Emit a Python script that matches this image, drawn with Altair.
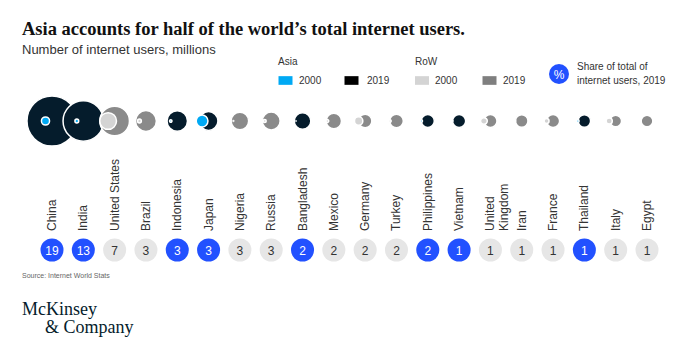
import altair as alt
import pandas as pd

countries = ["China", "India", "United States", "Brazil", "Indonesia", "Japan", "Nigeria",
             "Russia", "Bangladesh", "Mexico", "Germany", "Turkey", "Philippines", "Vietnam",
             "United Kingdom", "Iran", "France", "Thailand", "Italy", "Egypt"]
labels = ["China", "India", "United States", "Brazil", "Indonesia", "Japan", "Nigeria",
          "Russia", "Bangladesh", "Mexico", "Germany", "Turkey", "Philippines", "Vietnam",
          "United\nKingdom", "Iran", "France", "Thailand", "Italy", "Egypt"]
regions = ["Asia", "Asia", "RoW", "RoW", "Asia", "Asia", "RoW", "RoW", "Asia", "RoW",
           "RoW", "RoW", "Asia", "Asia", "RoW", "RoW", "RoW", "Asia", "RoW", "RoW"]
users_2000 = [22.5, 5.0, 95.4, 5.0, 2.0, 47.1, 0.2, 3.1, 0.1, 2.7,
              24.0, 2.0, 2.0, 0.2, 15.4, 0.25, 8.5, 2.3, 13.2, 0.45]
users_2019 = [854, 560, 300, 149, 143, 120, 105, 109, 94, 80,
              62, 64, 58, 59, 59, 53, 59, 53, 47, 47]
share_2019 = [19, 13, 7, 3, 3, 3, 3, 3, 2, 2, 2, 2, 2, 1, 1, 1, 1, 1, 1, 1]

df = pd.DataFrame({
    "country": countries,
    "label": labels,
    "region": regions,
    "u2000": users_2000,
    "u2019": users_2019,
    "share": share_2019,
})
df["g2000"] = df["region"] + " 2000"
df["g2019"] = df["region"] + " 2019"

SANS = "Liberation Sans"
SERIF = "Liberation Serif"
BLUE = "#2251ff"

x_enc = alt.X("country:N", sort=countries, axis=None,
              scale=alt.Scale(type="point", domain=countries, range=[52, 647], padding=0))
size_scale = alt.Scale(domain=[0, 854], range=[0, 2507])

base = alt.Chart(df)

c2019 = base.mark_circle(opacity=1, stroke="white", strokeWidth=1.5).encode(
    x=x_enc,
    y=alt.value(121),
    size=alt.Size("u2019:Q", scale=size_scale, legend=None),
    color=alt.Color("g2019:N", scale=alt.Scale(domain=["Asia 2019", "RoW 2019"],
                                                range=["#051c2c", "#8a8a8a"]), legend=None),
)

c2000 = base.mark_circle(opacity=1, stroke="white", strokeWidth=1.5, xOffset=-6.5).encode(
    x=x_enc,
    y=alt.value(121),
    size=alt.Size("u2000:Q", scale=size_scale, legend=None),
    color=alt.Color("g2000:N", scale=alt.Scale(domain=["Asia 2000", "RoW 2000"],
                                                range=["#00a9f4", "#d4d4d4"]), legend=None),
)

names = base.mark_text(angle=270, align="left", baseline="middle", fontSize=12, font=SANS,
                       color="#333333", lineBreak="\n", lineHeight=14).encode(
    x=x_enc, y=alt.value(231), text="label:N")

share_c = base.mark_circle(opacity=1, size=531).encode(
    x=x_enc, y=alt.value(250),
    color=alt.Color("region:N", scale=alt.Scale(domain=["Asia", "RoW"], range=[BLUE, "#e6e6e6"]),
                    legend=None),
)
share_t = base.mark_text(fontSize=12, font=SANS, baseline="middle").encode(
    x=x_enc, y=alt.value(250.5), text="share:Q",
    color=alt.condition(alt.datum.region == "Asia", alt.value("white"), alt.value("#333333")),
)


def txt(s, x, y, size=10, color="#333333", font=SANS, weight="normal", baseline="middle", align="left"):
    return alt.Chart(pd.DataFrame({"t": [s]})).mark_text(
        align=align, baseline=baseline, fontSize=size, font=font, fontWeight=weight, color=color
    ).encode(text="t:N", x=alt.value(x), y=alt.value(y))


def sq(color, x, y):
    return alt.Chart(pd.DataFrame({"t": [0]})).mark_point(
        shape="M-1,-0.62H1V0.62H-1Z", filled=True, opacity=1, size=196, color=color
    ).encode(x=alt.value(x), y=alt.value(y))


title = txt("Asia accounts for half of the world\u2019s total internet users.", 22, 35, size=18.5,
            color="#111111", font=SERIF, weight="bold", baseline="alphabetic")
subtitle = txt("Number of internet users, millions", 22, 54, size=13, color="#333333",
               baseline="alphabetic")

legend = [
    txt("Asia", 278, 62),
    sq("#00a9f4", 285.5, 80.5), txt("2000", 299, 80.5),
    sq("#000000", 351.5, 80.5), txt("2019", 367, 80.5),
    txt("RoW", 415, 62),
    sq("#d4d4d4", 422, 80.5), txt("2000", 435, 80.5),
    sq("#7f7f7f", 489.5, 80.5), txt("2019", 503, 80.5),
    alt.Chart(pd.DataFrame({"t": [0]})).mark_circle(size=400, color=BLUE, opacity=1).encode(
        x=alt.value(559), y=alt.value(74)),
    txt("%", 559, 74.5, size=12, color="white", align="center"),
    txt("Share of total of", 577, 67),
    txt("internet users, 2019", 577, 81),
]

source = txt("Source:  Internet World Stats", 22, 276, size=7, color="#666666")
logo1 = txt("McKinsey", 22, 315, size=18, color="#051c2c", font=SERIF, baseline="alphabetic")
logo2 = txt("& Company", 45, 333, size=18, color="#051c2c", font=SERIF, baseline="alphabetic")

chart = alt.layer(
    c2019, c2000, names, share_c, share_t, title, subtitle, *legend, source, logo1, logo2
).resolve_scale(color="independent").properties(
    width=680, height=355, autosize=alt.AutoSizeParams(type="none"), padding=0,
    background="white"
).configure_view(stroke=None)

chart.save("out.html", embed_options={"renderer": "svg", "actions": False})
